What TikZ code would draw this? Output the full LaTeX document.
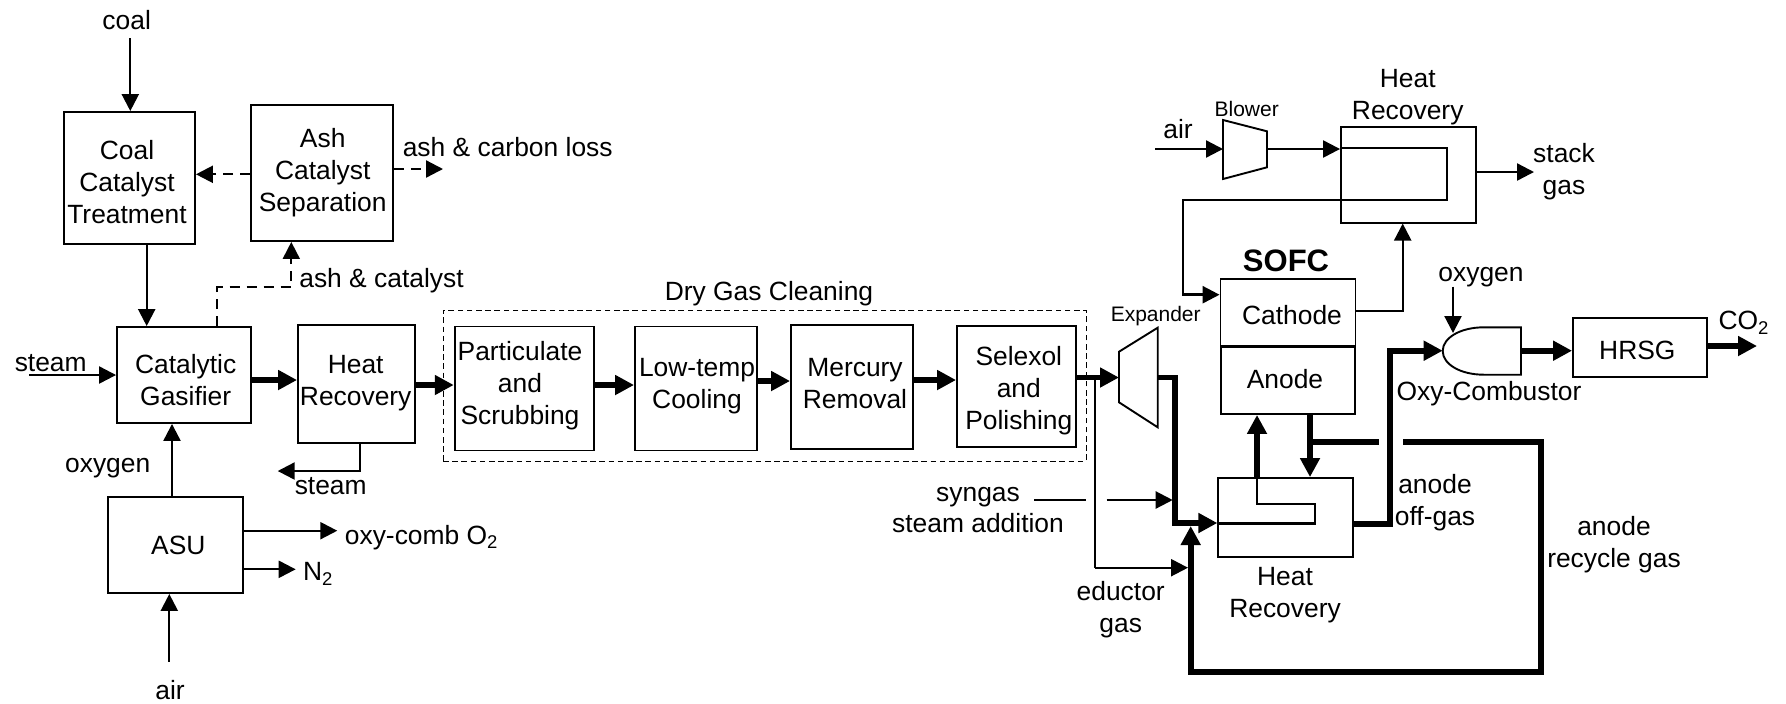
\documentclass[tikz,border=0pt]{standalone}
\usepackage{fontspec}
\setmainfont{Liberation Sans}
\usetikzlibrary{arrows.meta,positioning}

\begin{document}
\begin{tikzpicture}[
    x=0.5pt,y=-0.5pt,
    box/.style={draw=black, line width=0.95pt, inner sep=0pt},
    unit/.style={draw=black, line width=0.95pt},
    txt/.style={font=\fontsize{13.2}{16}\selectfont, align=center, inner sep=0pt},
    small/.style={font=\fontsize{10.5}{13}\selectfont, inner sep=0pt},
    feed/.style={-{Triangle[length=8.5pt,width=8.5pt]}, draw=black, line width=1.15pt},
    heavy/.style={-{Triangle[length=9.5pt,width=9.5pt]}, draw=black, line width=2.8pt},
    duct/.style={draw=black, line width=1.05pt},
    ductb/.style={draw=black, line width=2.8pt},
    loss/.style={-{Triangle[length=8.5pt,width=8.5pt]}, draw=black, line width=1.15pt, dash pattern=on 5pt off 3.5pt},
    dryzone/.style={draw=black, line width=0.5pt, dash pattern=on 2.8pt off 1.8pt}
  ]
    \useasboundingbox (0,0) rectangle (1786,703);

    % left side
    \node[box, minimum width=65.5pt, minimum height=66pt] (coal) at (129.5,178) {};
    \node[txt] (coaltxt) at (127,182) {Coal\\Catalyst\\Treatment};
    \node[box, minimum width=71pt, minimum height=68pt] (ash) at (322,173) {};
    \node[txt] (ashtxt) at (322.7,173) {Ash\\Catalyst\\Separation};
    \node[box, minimum width=67pt, minimum height=48pt] (gasifier) at (184,375) {};
    \node[txt] (gasifiertxt) at (185.7,380) {Catalytic\\Gasifier};
    \node[box, minimum width=58.5pt, minimum height=59pt] (hr1) at (356.5,384) {};
    \node[txt] (hr1txt) at (355.7,383.5) {Heat\\Recovery};
    \node[box, minimum width=67.5pt, minimum height=48pt] (asu) at (175.5,545) {};
    \node[txt] (asutxt) at (178.3,545) {ASU};

    \node[txt] (coallab) at (126.7,20) {coal};
    \node[txt] (steamin) at (50.7,362.7) {steam};
    \node[txt] (oxylab) at (107.7,468) {oxygen};
    \node[txt] (steamout) at (330.7,486) {steam};
    \node[txt] (airlab) at (170,690) {air};
    \node[txt] (o2lab) at (421.7,537.5) {oxy-comb O\textsubscript{2}};
    \node[txt] (n2lab) at (318.3,574) {N\textsubscript{2}};
    \node[txt] (asclab) at (381.5,280.5) {ash \& catalyst};
    \node[txt] (losslab) at (507.7,146.7) {ash \& carbon loss};

    \coordinate (coalin) at (130.3,38);
    \coordinate (steamstart) at (29.3,375);
    \coordinate (airstart) at (169.3,661.7);
    \coordinate (lossend) at (443,169);
    \coordinate (o2end) at (337.3,530.7);
    \coordinate (n2end) at (295.7,569.3);
    \coordinate (steamend) at (277.7,471);

    \draw[feed] (coalin) -- (coal.north -| coalin);
    \draw[feed] (coal.south -| 146.7,0) -- (gasifier.north -| 146.7,0);
    \draw[loss] (ash.west |- 0,174.3) -- (coal.east |- 0,174.3);
    \draw[loss] (ash.east |- lossend) -- (lossend);
    \draw[loss, line width=0.9pt] (gasifier.north -| 217.3,0) -- (217.3,287.3) -- (291.3,287.3) -- (ash.south -| 291.3,0);
    \draw[feed] (steamstart) -- (gasifier.west |- steamstart);
    \draw[feed] (asu.north -| 172,0) -- (gasifier.south -| 172,0);
    \draw[feed] (airstart) -- (asu.south -| airstart);
    \draw[feed] (asu.east |- o2end) -- (o2end);
    \draw[feed] (asu.east |- n2end) -- (n2end);
    \draw[feed] (hr1.south -| 360,0) -- (360,471) -- (steamend);
    \draw[heavy] (gasifier.east |- 0,380) -- (hr1.west |- 0,380);

    % gas cleaning
    \node[dryzone, minimum width=321.5pt, minimum height=75.5pt] (dry) at (764.5,385.5) {};
    \node[txt] (drylab) at (769,293.5) {Dry Gas Cleaning};
    \node[box, minimum width=69.5pt, minimum height=62pt] (part) at (524.2,388.5) {};
    \node[txt] (parttxt) at (520,385.5) {Particulate\\and\\Scrubbing};
    \node[box, minimum width=61pt, minimum height=62pt] (lowtemp) at (696,388.5) {};
    \node[txt] (lowtemptxt) at (697,386) {Low-temp\\Cooling};
    \node[box, minimum width=61.2pt, minimum height=62pt] (mercury) at (852.2,387) {};
    \node[txt] (mercurytxt) at (855,383.5) {Mercury\\Removal};
    \node[box, minimum width=59.5pt, minimum height=60.5pt] (selexol) at (1016.5,386.5) {};
    \node[txt] (selexoltxt) at (1018.8,390.5) {Selexol\\and\\Polishing};

    \draw[heavy] (hr1.east |- 0,385) -- (part.west |- 0,385);
    \draw[heavy] (part.east |- 0,385) -- (lowtemp.west |- 0,385);
    \draw[heavy] (lowtemp.east |- 0,381) -- (mercury.west |- 0,381);
    \draw[heavy] (mercury.east |- 0,380) -- (selexol.west |- 0,380);

    % expander and blower
    \draw[unit] (1119,351.7) -- (1157.7,327.7) -- (1157.7,427.3) -- (1119,402.3) -- cycle;
    \coordinate (expin) at (1119,377.5);
    \coordinate (expout) at (1157.7,377.5);
    \node[small] (explab) at (1155.7,316) {Expander};
    \draw[unit] (1223,120) -- (1267,131.3) -- (1267,167.3) -- (1223,179) -- cycle;
    \coordinate (blowin) at (1223,149);
    \coordinate (blowout) at (1267,149);
    \node[small] (blowlab) at (1246.7,109) {Blower};

    % fuel cell
    \node[box, minimum width=67.5pt, minimum height=33.5pt] (cathode) at (1288,312.5) {};
    \node[txt] (cathodetxt) at (1292,315) {Cathode};
    \node[box, minimum width=67pt, minimum height=33.5pt] (anode) at (1288,380.5) {};
    \node[txt] (anodetxt) at (1285,379.5) {Anode};
    \node[font=\fontsize{15.5}{18}\selectfont\bfseries, inner sep=0pt] (sofc) at (1286,261) {SOFC};
    \node[box, minimum width=67.3pt, minimum height=47.8pt] (hrtop) at (1408.3,174.8) {};
    \node[txt] (hrtoptxt) at (1407.7,97.5) {Heat\\Recovery};
    \node[box, minimum width=67.3pt, minimum height=39.5pt] (hrbot) at (1285.6,517.5) {};
    \node[txt] (hrbottxt) at (1285,595.5) {Heat\\Recovery};
    \node[box, minimum width=67pt, minimum height=29.6pt] (hrsg) at (1640,347.4) {};
    \node[txt] (hrsgtxt) at (1637.3,350) {HRSG};

    % combustor
    \draw[unit] (1521,327.3) -- (1484,327.3) .. controls (1460,327.3) and (1442.7,338) .. (1442.7,351) .. controls (1442.7,364) and (1460,374.7) .. (1484,374.7) -- (1521,374.7) -- cycle;
    \coordinate (oxyin) at (1442.7,350.7);
    \coordinate (oxytop) at (1453,333);
    \coordinate (oxyout) at (1521,350.7);
    \node[txt] (oxycomb) at (1489,393.5) {Oxy-Combustor};
    \node[txt] (oxy2lab) at (1481,277) {oxygen};

    % labels on the right
    \node[txt] (airlab2) at (1178,129) {air};
    \node[txt] (stacklab) at (1564,172) {stack\\gas};
    \node[txt] (co2lab) at (1744,323) {CO\textsubscript{2}};
    \node[txt] (offgas) at (1435,502.5) {anode\\off-gas};
    \node[txt] (recycle) at (1614,545) {anode\\recycle gas};
    \node[txt] (eductor) at (1120.7,609.5) {eductor\\gas};
    \node[txt, font=\fontsize{13.2}{15.5}\selectfont] (syngas) at (978,510) {syngas\\steam addition};

    \coordinate (airstart2) at (1155,149);
    \coordinate (stackend) at (1534,172);
    \coordinate (oxystart) at (1453,286.7);
    \coordinate (co2end) at (1757,346);
    \coordinate (synleft) at (1034,500);
    \coordinate (synright) at (1085.7,500);
    \coordinate (synstart) at (1106.7,500);
    \coordinate (synend) at (1172.7,500);
    \coordinate (eductend) at (1188,567.7);
    \coordinate (merge) at (1190.7,526);
    \coordinate (recstub) at (1403,441.7);
    \coordinate (recstub2) at (1379,441.7);

    \draw[heavy] (selexol.east |- expin) -- (expin);
    \draw[duct] (1095,377.5) -- (1095,567.7);
    \draw[feed] (1095,567.7) -- (eductend);
    \draw[duct] (synleft) -- (synright);
    \draw[feed] (synstart) -- (synend);
    \draw[heavy] (expout) -- (1175,377.5) -- (1175,523) -- (hrbot.west |- 0,523);
    \draw[duct] (hrbot.west |- 0,523.5) -- (1315,523.5) -- (1315,504) -- (1257,504) -- (hrbot.north -| 1257,0);
    \draw[heavy] (hrbot.north -| 1257,0) -- (anode.south -| 1257,0);
    \draw[heavy] (anode.south -| 1310,0) -- (hrbot.north -| 1310,0);
    \draw[ductb] (1310,441.7) -- (recstub2);
    \draw[heavy, line width=3pt] (recstub) -- (1541,441.7) -- (1541,672) -- (1190.7,672) -- (merge);
    \draw[heavy] (hrbot.east |- 0,523.7) -- (1390,523.7) -- (1390,350.7) -- (oxyin);
    \draw[feed] (oxystart) -- (oxytop);
    \draw[heavy] (oxyout) -- (hrsg.west |- oxyout);
    \draw[heavy] (hrsg.east |- co2end) -- (co2end);

    \draw[feed] (airstart2) -- (blowin);
    \draw[feed] (blowout) -- (hrtop.west |- blowout);
    \draw[duct] (hrtop.west |- 0,148.3) -- (1446.7,148.3) -- (1446.7,200) -- (hrtop.west |- 0,200);
    \draw[feed, line width=1.3pt] (hrtop.west |- 0,200) -- (1183,200) -- (1183,294.7) -- (cathode.west |- 0,294.7);
    \draw[feed] (cathode.east |- 0,310.7) -- (1402.7,310.7) -- (hrtop.south -| 1402.7,0);
    \draw[feed] (hrtop.east |- stackend) -- (stackend);
  \end{tikzpicture}
\end{document}
